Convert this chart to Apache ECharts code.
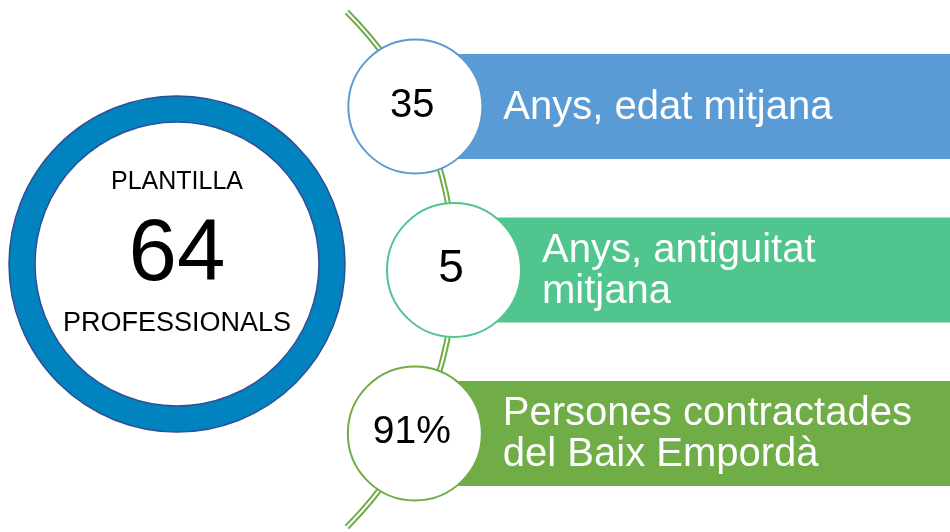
<!DOCTYPE html>
<html>
<head>
<meta charset="utf-8">
<title>Plantilla</title>
<script src="https://cdn.jsdelivr.net/npm/echarts@6/dist/echarts.min.js"></script>
<style>
  html, body { margin: 0; padding: 0; background: #fff; }
  #main { width: 950px; height: 532px; }
</style>
</head>
<body>
<div id="main"></div>
<script>
// dades
var headline = 'PLANTILLA';
var total = 64;
var totalUnit = 'PROFESSIONALS';
var figures = ['35', '5', '91%'];
var captions = ['Anys, edat mitjana', 'Anys, antiguitat\nmitjana', 'Persones contractades\ndel Baix Empordà'];

// estil i posicions (en píxels del llenç 950x532)
var colors = ['#5b9bd5', '#50c58d', '#70ad47'];
var figureSize = [40, 46, 39];
var hub = { x: 177, y: 264, r0: 142, r1: 168 };
var track = { x: 91, y: 269.5, r: 363, half: 45.2 }; // arc verd, angle en graus
var rowY = [106.5, 270, 433.5];
var barHalf = 52.5;
var badgeSize = 134;
var textGap = 88;

// x del centre de cada cercle: sobre l'arc
var badgeX = rowY.map(function (y) {
    var dy = y - track.y;
    return track.x + Math.sqrt(track.r * track.r - dy * dy);
});

var font = '"Liberation Sans", Arial, sans-serif';

var myChart = echarts.init(document.getElementById('main'));

var option = {
    animation: false,
    grid: { left: 0, right: 0, top: 0, bottom: 0 },
    xAxis: { type: 'value', min: 0, max: 950, show: false },
    yAxis: { type: 'value', min: 0, max: 532, inverse: true, show: false },
    series: [
        {
            // anell PLANTILLA
            type: 'pie',
            center: [hub.x, hub.y],
            radius: [hub.r0, hub.r1],
            silent: true,
            z: 1,
            itemStyle: { color: '#0083bf', borderColor: '#2f4f94', borderWidth: 1.5 },
            label: {
                show: true,
                position: 'center',
                padding: [0, 0, 28, 0],
                formatter: '{a|' + headline + '}\n{b|' + total + '}\n{c|' + totalUnit + '}',
                rich: {
                    a: { fontFamily: font, fontSize: 25, color: '#000', lineHeight: 30 },
                    b: { fontFamily: font, fontSize: 87, color: '#000', lineHeight: 118 },
                    c: { fontFamily: font, fontSize: 27, color: '#000', lineHeight: 18 }
                }
            },
            labelLine: { show: false },
            data: [{ value: total, name: headline }]
        },
        {
            // arc doble verd
            type: 'custom',
            z: 1,
            silent: true,
            data: [[0]],
            renderItem: function (params, api) {
                var c = api.coord([track.x, track.y]);
                var r = api.size([track.r, 0])[0];
                var a = track.half * Math.PI / 180;
                return {
                    type: 'group',
                    children: [
                        {
                            type: 'arc',
                            shape: { cx: c[0], cy: c[1], r: r, startAngle: -a, endAngle: a, clockwise: true },
                            style: { stroke: '#70ad47', lineWidth: 6, fill: null }
                        },
                        {
                            type: 'arc',
                            shape: { cx: c[0], cy: c[1], r: r, startAngle: -a - 0.004, endAngle: a + 0.004, clockwise: true },
                            style: { stroke: '#fff', lineWidth: 2, fill: null }
                        }
                    ]
                };
            }
        },
        {
            // franges de color amb el text
            type: 'custom',
            z: 2,
            silent: true,
            data: captions.map(function (t, i) { return [i]; }),
            renderItem: function (params, api) {
                var i = api.value(0);
                var p0 = api.coord([badgeX[i], rowY[i] - barHalf]);
                var p1 = api.coord([950, rowY[i] + barHalf]);
                var mid = api.coord([badgeX[i], rowY[i]]);
                return {
                    type: 'group',
                    children: [
                        {
                            type: 'rect',
                            shape: { x: p0[0], y: p0[1], width: p1[0] - p0[0], height: p1[1] - p0[1] },
                            style: { fill: colors[i] }
                        },
                        {
                            type: 'text',
                            style: {
                                text: captions[i],
                                x: mid[0] + textGap,
                                y: mid[1] + 1,
                                verticalAlign: 'middle',
                                align: 'left',
                                fill: '#fff',
                                fontFamily: font,
                                fontSize: 40,
                                lineHeight: 41
                            }
                        }
                    ]
                };
            }
        },
        {
            // cercles amb les xifres
            type: 'scatter',
            z: 3,
            silent: true,
            symbol: 'circle',
            symbolSize: badgeSize,
            data: figures.map(function (f, i) {
                return {
                    value: [badgeX[i], rowY[i]],
                    itemStyle: { color: '#fff', borderColor: colors[i], borderWidth: 2, opacity: 1 },
                    label: {
                        show: true,
                        position: 'inside',
                        offset: [-3, -1],
                        formatter: f,
                        color: '#000',
                        fontFamily: font,
                        fontSize: figureSize[i]
                    }
                };
            })
        }
    ]
};

myChart.setOption(option);
</script>
</body>
</html>
